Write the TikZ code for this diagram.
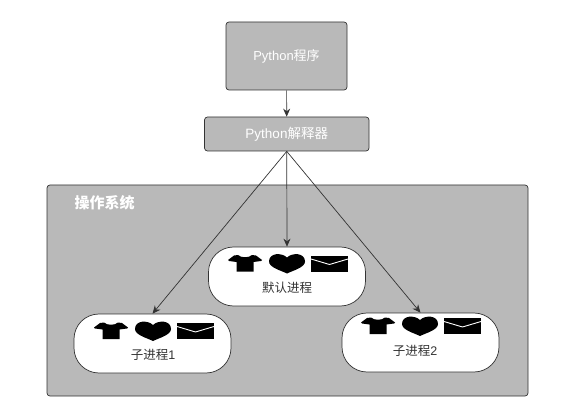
\documentclass[tikz,border=0pt]{standalone}
\usepackage{xcolor}
\usepackage{fontspec}
\setmainfont{Liberation Sans}
\newfontfamily\cjk{Noto Sans CJK SC}
\usetikzlibrary{arrows.meta}
\definecolor{boxgray}{HTML}{B9B9B9}
\definecolor{linedark}{HTML}{333333}

\tikzset{
    pics/icons/.style={code={
        \fill[black] (-49,-8.5) .. controls (-46,-5.5) and (-38,-5.5) .. (-35,-8.5)
            -- (-31,-8) -- (-25,-3.5) -- (-26,-2.5)
            -- (-33.5,-1.5) -- (-33.5,8) -- (-50.5,8) -- (-50.5,-1.5) -- (-58,-2.5) -- (-59,-3.5) -- (-53,-8) -- cycle;
        \fill[black] (0,-6) .. controls (-5,-11) and (-18,-11) .. (-18,-2)
            .. controls (-18,4) and (-6,7) .. (0,10)
            .. controls (6,7) and (18,4) .. (18,-2)
            .. controls (18,-11) and (5,-11) .. (0,-6) -- cycle;
        \fill[black] (24,-8) rectangle (61,8);
        \draw[white, line width=0.9pt] (24,-4.5) -- (42.5,1) -- (61,-4.5);
    }}
}

\begin{document}
\begin{tikzpicture}[
    x=1pt, y=-1pt,
    graybox/.style={draw=linedark, fill=boxgray, rounded corners=3pt, line width=0.7pt,
                    inner sep=0pt, text=white},
    proc/.style={draw=linedark, fill=white, rounded corners=25pt, line width=0.7pt,
                 inner sep=0pt, minimum width=157pt, minimum height=59pt},
    tag/.style={font=\fontsize{12.5}{15}\selectfont, text=linedark, inner sep=0pt},
    arrow/.style={draw=linedark, line width=0.7pt, -{Stealth[length=8pt, width=7pt]}},
]
    \useasboundingbox (0, 0) rectangle (582, 420);

    \node[graybox, minimum width=121pt, minimum height=68pt, font=\fontsize{13}{15}\selectfont] (prog) at (286.5, 56) {Python{\cjk 程序}};
    \node[graybox, minimum width=164.5pt, minimum height=34pt, font=\fontsize{13.5}{16}\selectfont] (interp) at (286.75, 134) {Python{\cjk 解释器}};
    \node[graybox, minimum width=481pt, minimum height=211pt] (os) at (287.5, 290.5) {};
    \node[inner sep=0pt, text=white, font=\fontsize{15}{18}\selectfont] (ostitle) at (104.5, 203) {\cjk\bfseries 操作系统};

    \node[proc] (main) at (287, 276.5) {};
    \node[proc] (child1) at (152.5, 343.5) {};
    \node[proc] (child2) at (420.5, 342.5) {};

    \pic at (287, 263.5) {icons};
    \pic at (153, 331) {icons};
    \pic at (420, 326) {icons};

    \node[tag] (mainlabel) at (287, 288) {\cjk 默认进程};
    \node[tag] (child1label) at (153, 355) {{\cjk 子进程}1};
    \node[tag] (child2label) at (415, 351) {{\cjk 子进程}2};

    \draw[arrow] (prog) -- (interp);
    \draw[arrow] (interp.south) -- (main.north);
    \draw[arrow] (interp.south) -- (child1.north);
    \draw[arrow] (interp.south) -- (child2.north);
\end{tikzpicture}
\end{document}
